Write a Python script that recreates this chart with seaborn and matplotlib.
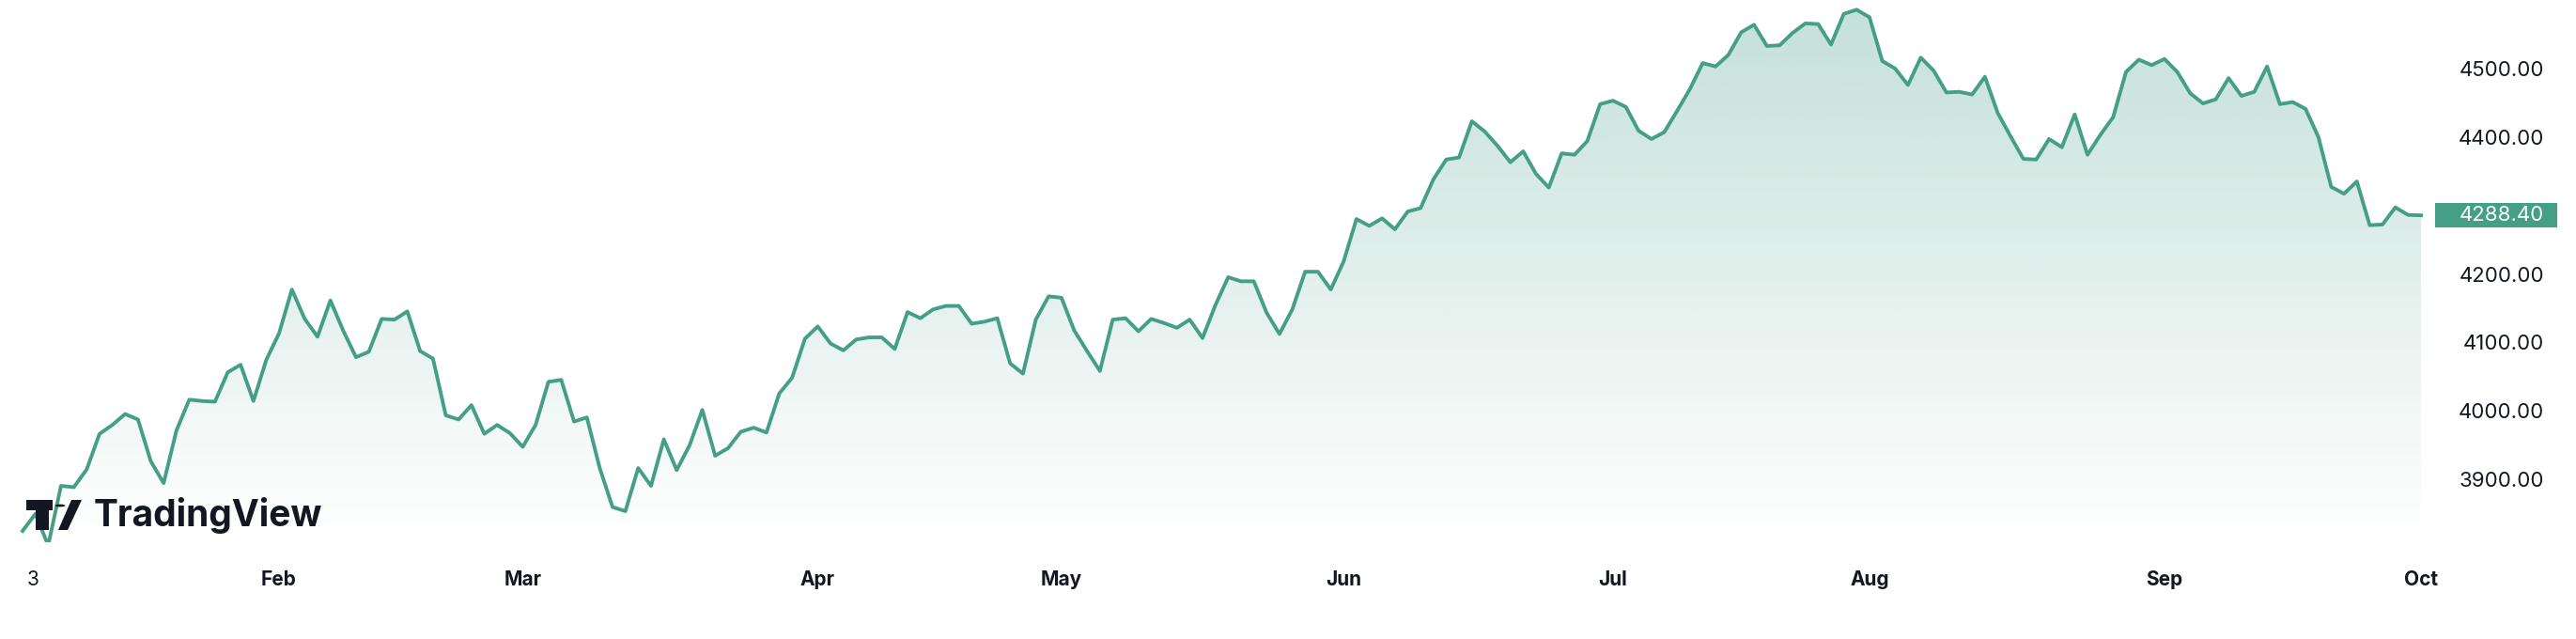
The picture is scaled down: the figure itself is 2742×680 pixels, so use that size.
import numpy as np
import pandas as pd
import matplotlib
matplotlib.use("Agg")
import matplotlib.pyplot as plt
from matplotlib.patches import Rectangle, Circle, Polygon
import seaborn as sns

values = [
    3827, 3852, 3806, 3893, 3891, 3917, 3969, 3982, 3998, 3990, 3929, 3897, 3974, 4019, 4017, 4016,
    4059, 4070, 4017, 4077, 4116, 4180, 4137, 4111, 4164, 4120, 4081, 4089, 4137, 4136, 4148, 4090,
    4079, 3996, 3990, 4011, 3969, 3982, 3970, 3950,
    3982, 4045, 4048, 3987, 3993, 3919, 3862, 3856, 3919, 3893, 3961, 3916, 3952, 4004, 3937, 3948,
    3972, 3978, 3971, 4028, 4051, 4108, 4126, 4101, 4091, 4107, 4110, 4110, 4093, 4147, 4138, 4151,
    4156, 4156, 4130, 4133, 4138, 4072, 4057,
    4136, 4170, 4168, 4120, 4090, 4061, 4136, 4138, 4119, 4137, 4131, 4124, 4136, 4109, 4157, 4198,
    4192, 4192, 4146, 4115, 4151, 4206, 4206, 4180, 4221, 4283, 4273, 4284, 4268, 4294, 4299, 4341,
    4370, 4373, 4426, 4411, 4390, 4366, 4382, 4349,
    4329, 4379, 4377, 4397, 4451, 4456, 4447, 4412, 4400, 4410, 4441, 4473, 4511, 4506, 4523,
    4556, 4567, 4536, 4537, 4555, 4569, 4568, 4538, 4583, 4589, 4578, 4514, 4503, 4479, 4519, 4500,
    4468, 4469, 4465, 4491, 4438, 4404, 4371, 4370,
    4400, 4388, 4436, 4377, 4406, 4432, 4498, 4516, 4508, 4517, 4498, 4467, 4452, 4458, 4489, 4463,
    4469, 4506, 4451, 4454, 4444, 4403, 4330, 4320, 4338, 4274, 4275, 4300, 4289, 4288.4,
]
holidays = ["2023-01-16", "2023-02-20", "2023-04-07", "2023-05-29", "2023-06-19", "2023-07-04", "2023-09-04"]
month_labels = ["3", "Feb", "Mar", "Apr", "May", "Jun", "Jul", "Aug", "Sep", "Oct"]
y_ticks = [3900, 4000, 4100, 4200, 4300, 4400, 4500]
last_label = "4288.40"

days = pd.bdate_range("2023-01-03", periods=260)
days = days[~days.isin(pd.to_datetime(holidays))][:len(values)]
df = pd.DataFrame({"idx": np.arange(len(values)), "date": days, "value": values})
month_first = df.groupby(df["date"].dt.to_period("M"))["idx"].min().tolist()

W, H = 2742, 680
GREEN = "#459e86"
TXT = "#131722"
fig = plt.figure(figsize=(W / 100, H / 100), dpi=100)
plt.rcParams["font.family"] = ["Inter", "DejaVu Sans"]
ax_right_px = 2590
ax_bottom_px = 577
ax = fig.add_axes([0, (H - ax_bottom_px) / H, ax_right_px / W, ax_bottom_px / H])

n = len(values)
span = (n - 1) / (2577 - 24)
xmin = -24 * span
xmax = (n - 1) + (ax_right_px - 2577) * span
ymin, ymax = 3810.6, 4603.2

sns.lineplot(data=df, x="idx", y="value", ax=ax, color=GREEN, linewidth=2.8, zorder=3)

grad = np.zeros((256, 1, 4))
c = matplotlib.colors.to_rgb(GREEN)
grad[..., 0], grad[..., 1], grad[..., 2] = c
grad[:, 0, 3] = np.linspace(0.32, 0.0, 256)
im = ax.imshow(grad, aspect="auto", extent=[xmin, xmax, ymin, ymax], origin="upper", zorder=1)
xs = df["idx"].to_numpy()
poly = Polygon(np.column_stack([np.r_[xs[0], xs, xs[-1]], np.r_[ymin, df["value"], ymin]]),
               closed=True, transform=ax.transData, facecolor="none", edgecolor="none")
ax.add_patch(poly)
im.set_clip_path(poly)

ax.set_xlim(xmin, xmax)
ax.set_ylim(ymin, ymax)
for s in ax.spines.values():
    s.set_visible(False)
ax.set_xlabel("")
ax.set_ylabel("")
ax.set_xticks([])
ax.set_yticks([])

tick_pos = [0] + month_first[1:] + [n - 0.3]
for lab, t in zip(month_labels, tick_pos):
    xpx = (t - xmin) / (xmax - xmin) * ax_right_px
    if lab == "3":
        xpx = 35
    fig.text(xpx / W, 1 - 617 / H, lab, ha="center", va="center", fontsize=15,
             fontweight="bold" if lab != "3" else "normal", color=TXT)

for v in y_ticks:
    ypx = ax_bottom_px - (v - ymin) / (ymax - ymin) * ax_bottom_px
    if v == 4300:
        continue
    fig.text(2708 / W, 1 - ypx / H, f"{v:.2f}", ha="right", va="center", fontsize=16, color=TXT)

ypx_last = ax_bottom_px - (values[-1] - ymin) / (ymax - ymin) * ax_bottom_px
fig.patches.append(Rectangle((2592 / W, 1 - (ypx_last + 13) / H), 130 / W, 26 / H,
                             transform=fig.transFigure, facecolor=GREEN, edgecolor="none"))
fig.text(2708 / W, 1 - ypx_last / H, last_label, ha="right", va="center", fontsize=16, color="white")

# TradingView logo
dy = -18
fig.patches.append(Rectangle((28 / W, 1 - (561 + dy) / H), 28 / W, 11 / H, transform=fig.transFigure,
                             facecolor=TXT, edgecolor="none", zorder=6))
fig.patches.append(Rectangle((38 / W, 1 - (582 + dy) / H), 14 / W, 32 / H, transform=fig.transFigure,
                             facecolor=TXT, edgecolor="none", zorder=6))
fig.patches.append(Circle((64 / W, 1 - (556 + dy) / H), 5.5 / W, transform=fig.transFigure,
                          facecolor=TXT, edgecolor="none", zorder=6))
fig.patches.append(Polygon([(72 / W, 1 - (582 + dy) / H), (62 / W, 1 - (582 + dy) / H),
                            (76 / W, 1 - (550 + dy) / H), (87 / W, 1 - (550 + dy) / H)],
                           closed=True, transform=fig.transFigure, facecolor=TXT, edgecolor="none", zorder=6))
fig.text(100 / W, 1 - (567 + dy) / H, "TradingView", ha="left", va="center", fontsize=28, fontweight="bold",
         color=TXT, zorder=7)

fig.savefig("out.png", dpi=100, facecolor="white")
